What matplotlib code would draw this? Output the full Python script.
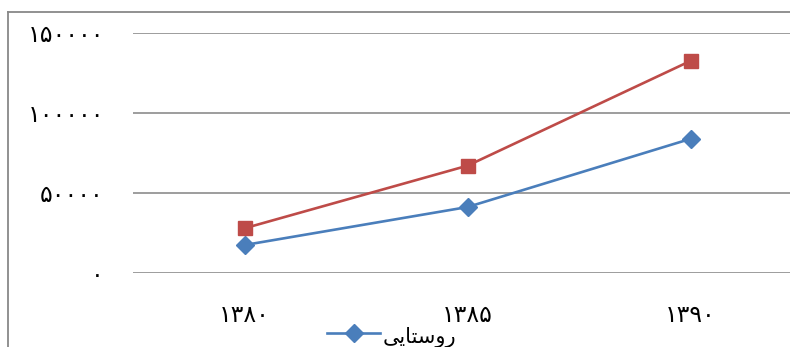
import matplotlib
matplotlib.use("Agg")
import matplotlib.pyplot as plt
from matplotlib.lines import Line2D

# Years (Persian calendar) and population series
years = ["۱۳۸۰", "۱۳۸۵", "۱۳۹۰"]
rural = [17200, 41000, 83700]
urban = [27700, 66900, 132500]

y_ticks = [0, 50000, 100000, 150000]
y_tick_labels = ["۰", "۵۰۰۰۰", "۱۰۰۰۰۰", "۱۵۰۰۰۰"]

# "روستایی" written with presentation forms in visual order
rural_label = "\uFEF0\uFEF3\uFE8E\uFE98\uFEB3\uFEED\uFEAD"

plt.rcParams['font.family'] = ['DejaVu Sans']

W, H = 790, 347
fig = plt.figure(figsize=(W / 100, H / 100), dpi=100)
fig.patch.set_facecolor("white")

left_px, right_px, top_px, bottom_px = 133, 802, 33, 272.5
ax = fig.add_axes([left_px / W, 1 - bottom_px / H,
                   (right_px - left_px) / W, (bottom_px - top_px) / H])

x = list(range(len(years)))
blue = "#4A7EBB"
red = "#BE4B48"

ln_rural, = ax.plot(x, rural, color=blue, lw=1.9, marker="D", markersize=9,
                    markeredgecolor=blue, markerfacecolor=blue, zorder=3)
ln_urban, = ax.plot(x, urban, color=red, lw=1.9, marker="s", markersize=10,
                    markeredgecolor=red, markerfacecolor=red, zorder=3)

ax.set_xlim(-0.5, len(years) - 0.5)
ax.set_ylim(0, 150000)
ax.set_yticks(y_ticks)
ax.set_yticklabels(y_tick_labels)
ax.set_xticks(x)
ax.set_xticklabels(years)

for s in ax.spines.values():
    s.set_visible(False)
ax.tick_params(axis="both", length=0, labelsize=17, colors="black")
ax.tick_params(axis="y", pad=21)
ax.tick_params(axis="x", pad=22)
ax.yaxis.grid(True, color="#8C8C8C", lw=1.2)
ax.set_axisbelow(True)

# Outer chart frame (top and left edges)
frame_col = "#888888"
fig.add_artist(Line2D([7.5 / W, 1], [1 - 12 / H, 1 - 12 / H],
                      color=frame_col, lw=1.3, transform=fig.transFigure))
fig.add_artist(Line2D([7.5 / W, 7.5 / W], [0, 1 - 12 / H],
                      color=frame_col, lw=1.3, transform=fig.transFigure))

# Legend entry at the bottom: key line with marker, then the series name
key_y = 1 - 333 / H
fig.add_artist(Line2D([327 / W, 380 / W], [key_y, key_y], color=blue, lw=1.9,
                      transform=fig.transFigure))
fig.add_artist(Line2D([353.5 / W], [key_y], color=blue, marker="D",
                      markersize=9, markerfacecolor=blue, markeredgecolor=blue,
                      transform=fig.transFigure))
fig.text(383 / W, 1 - 343 / H, rural_label, fontsize=15, ha="left",
         va="baseline", color="black")

fig.savefig("out.png", dpi=100, facecolor="white")
